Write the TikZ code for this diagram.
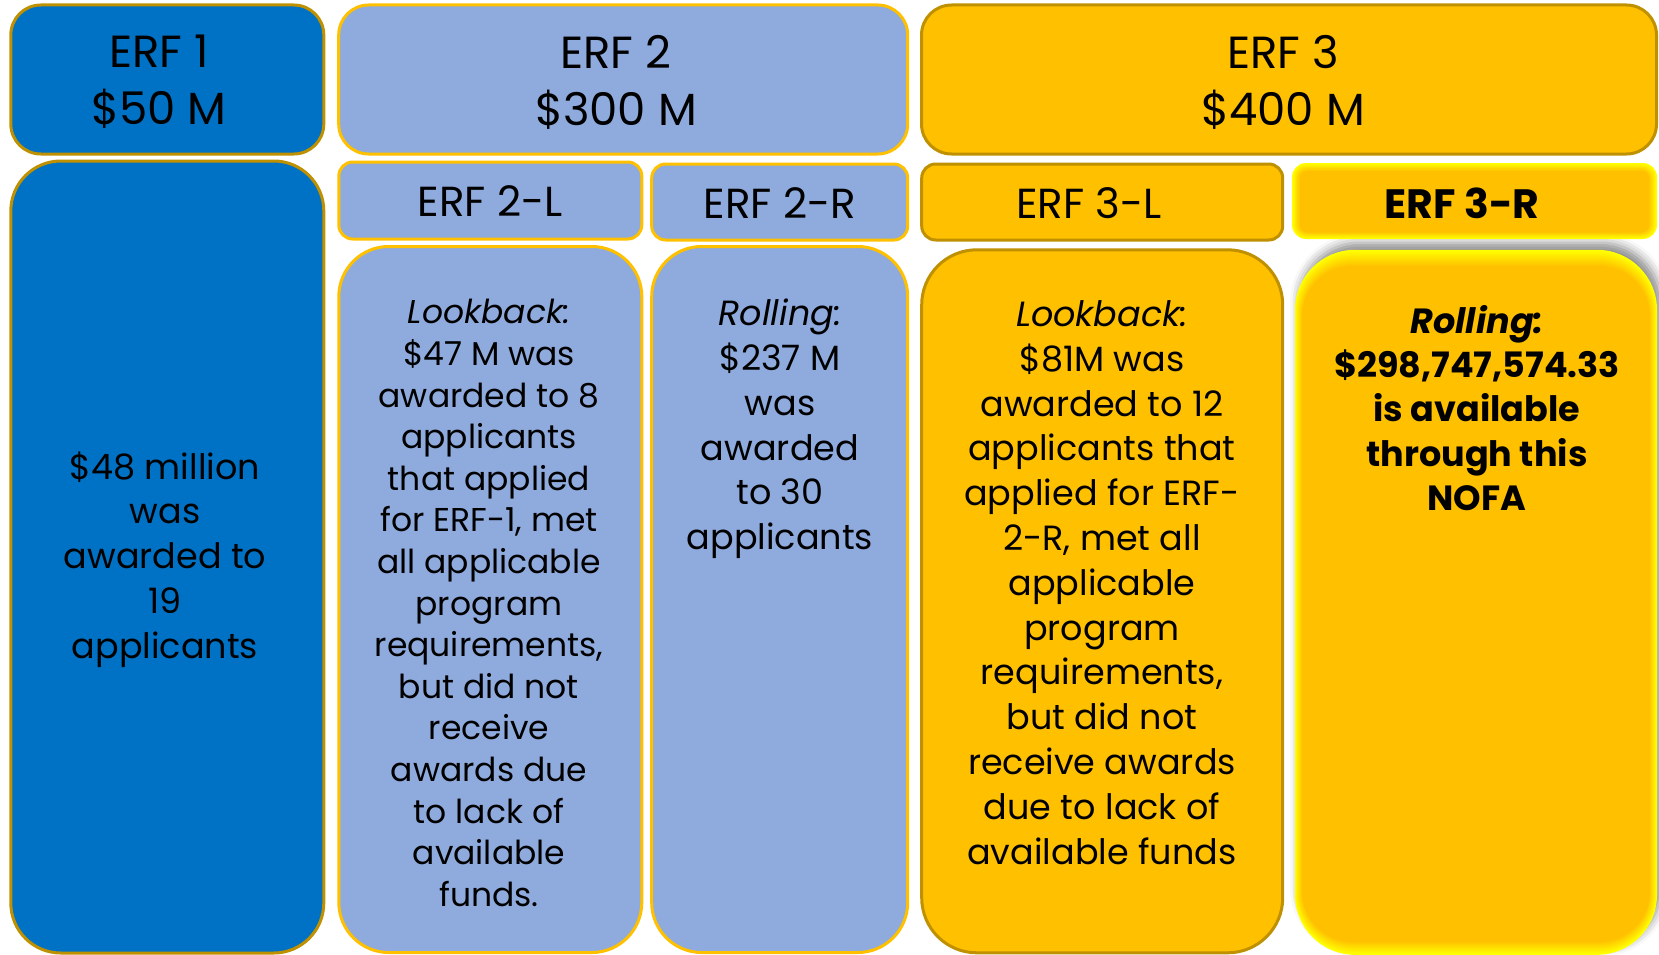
\documentclass[tikz,border=0pt]{standalone}
\usepackage{fontspec}
\setmainfont{Poppins}
\usetikzlibrary{shadows.blur,calc}
\definecolor{erfblue}{HTML}{0072C6}
\definecolor{erflight}{HTML}{8FAADC}
\definecolor{erfgold}{HTML}{FFC000}
\definecolor{erfdark}{HTML}{BF9000}
\definecolor{erfyellow}{HTML}{FFFF00}
\begin{document}
\begin{tikzpicture}[x=1pt,y=-1pt,
  box/.style={draw, line width=3pt, inner sep=0pt, outer sep=0pt},
  bone/.style={box, fill=erfblue, draw=erfdark},
  btwo/.style={box, fill=erflight, draw=erfgold},
  bthree/.style={box, fill=erfgold, draw=erfdark},
  hdr/.style={font=\fontsize{45}{57}\selectfont, align=center, inner sep=0pt},
  subhdr/.style={font=\fontsize{42}{48}\selectfont, inner sep=0pt},
  txt/.style={font=\fontsize{35}{44.8}\selectfont, align=center, inner sep=0pt},
  txtsmall/.style={font=\fontsize{33}{41.6}\selectfont, align=center, inner sep=0pt},
]
\useasboundingbox (0,0) rectangle (1659,955);

% top headers
\node[bone, rounded corners=30pt, minimum width=313pt, minimum height=149pt] (erf1h) at (167.3,79.5) {};
\node[btwo, rounded corners=30pt, minimum width=569pt, minimum height=149pt] (erf2h) at (623.2,79.5) {};
\node[bthree, rounded corners=30pt, minimum width=735pt, minimum height=149pt] (erf3h) at (1289,79.5) {};
\node[hdr] (t1h) at (159,82) {ERF 1\\\$50 M};
\node[hdr] (t2h) at (616,82) {ERF 2\\\$300 M};
\node[hdr] (t3h) at (1283,82) {ERF 3\\\$400 M};

% ERF 1 body
\node[bone, rounded corners=50pt, minimum width=313pt, minimum height=792pt] (erf1b) at (167.3,557) {};
\node[txt] (t1b) at (165,559.5) {\$48 million\\was\\awarded to\\19\\applicants};

% ERF 2 sub headers and bodies
\node[btwo, rounded corners=14pt, minimum width=303pt, minimum height=77pt] (erf2lh) at (490.3,200.5) {};
\node[btwo, rounded corners=14pt, minimum width=256pt, minimum height=76pt] (erf2rh) at (779.7,202) {};
\node[subhdr] (t2lh) at (490,201) {ERF 2-L};
\node[subhdr] (t2rh) at (780,203) {ERF 2-R};
\node[btwo, rounded corners=50pt, minimum width=303pt, minimum height=706pt] (erf2lb) at (490.3,599.5) {};
\node[btwo, rounded corners=50pt, minimum width=256pt, minimum height=706pt] (erf2rb) at (779.7,599.5) {};
\node[txtsmall] (t2lb) at (489,603) {\textit{Lookback:}\\\$47 M was\\awarded to 8\\applicants\\that applied\\for ERF-1, met\\all applicable\\program\\requirements,\\but did not\\receive\\awards due\\to lack of\\available\\funds.};
\node[txt] (t2rb) at (780,429) {\textit{Rolling:}\\\$237 M\\was\\awarded\\to 30\\applicants};

% ERF 3-L
\node[bthree, rounded corners=14pt, minimum width=361pt, minimum height=76pt] (erf3lh) at (1102.2,202) {};
\node[subhdr] (t3lh) at (1089,203) {ERF 3-L};
\node[bthree, rounded corners=55pt, minimum width=361pt, minimum height=703pt] (erf3lb) at (1102.2,601.3) {};
\node[txt] (t3lb) at (1102,582.5) {\textit{Lookback:}\\\$81M was\\awarded to 12\\applicants that\\applied for ERF-\\2-R, met all\\applicable\\program\\requirements,\\but did not\\receive awards\\due to lack of\\available funds};

% ERF 3-R body with glow and shadow
\node[box, draw=none, fill=erfyellow, rounded corners=60pt, minimum width=362pt, minimum height=705pt,
  blur shadow={shadow xshift=4pt, shadow yshift=7pt, shadow blur radius=9pt, shadow opacity=45}] (erf3rb) at (1476,602.3) {};
\foreach \i in {1,...,8} {
  \pgfmathsetmacro\p{\i*12.5}
  \pgfmathsetmacro\r{60-\i*1.2}
  \fill[erfgold!\p!erfyellow, rounded corners=\r pt]
    ($(erf3rb.north west)+(\i*0.9,\i*2)$) rectangle ($(erf3rb.south east)+(-\i*0.9,-\i*1.6)$);
}
% ERF 3-R header with bevel
\node[box, draw=none, fill=erfyellow, rounded corners=14pt, minimum width=365pt, minimum height=76pt] (erf3rh) at (1474.5,201) {};
\foreach \i in {1,...,6} {
  \pgfmathsetmacro\p{\i*16.67}
  \pgfmathsetmacro\r{14-\i*1}
  \fill[erfgold!\p!erfyellow, rounded corners=\r pt]
    ($(erf3rh.north west)+(\i*1.3,\i*1.3)$) rectangle ($(erf3rh.south east)+(-\i*1.3,-\i*1.1)$);
}
\node[subhdr, font=\fontsize{41}{48}\selectfont\bfseries] (t3rh) at (1462,203) {ERF 3-R};
\node[txt, font=\fontsize{35}{44.4}\selectfont\bfseries] (t3rb) at (1477,408) {\textit{Rolling:}\\\$298,747,574.33\\is available\\through this\\NOFA};
\end{tikzpicture}
\end{document}
